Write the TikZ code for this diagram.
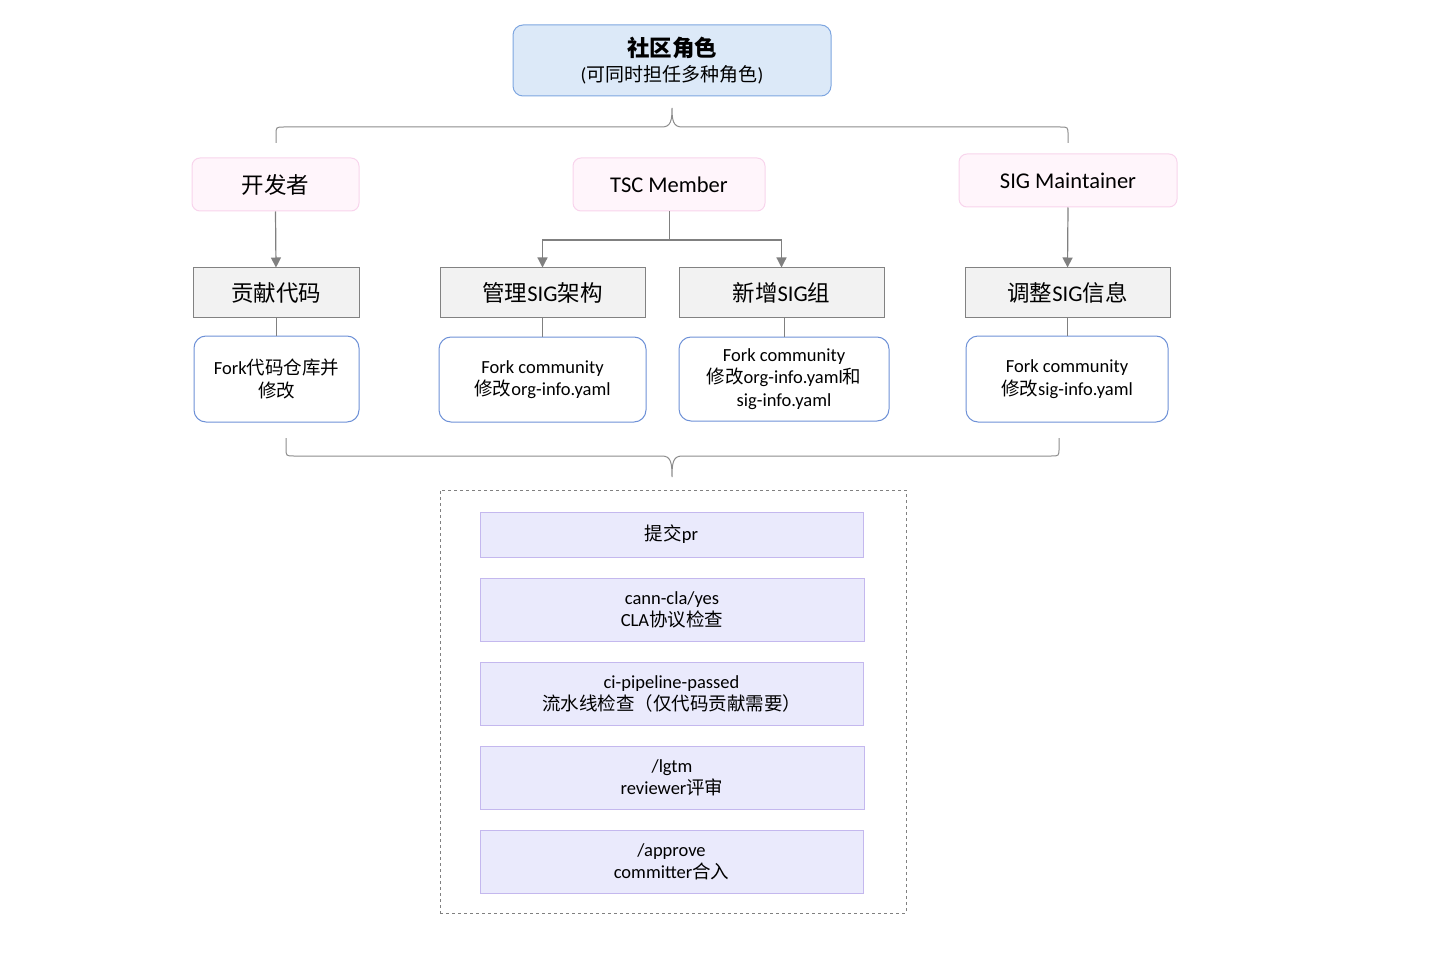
\documentclass[tikz,border=0pt]{standalone}
\usepackage{fontspec}
\setmainfont{Carlito}
\newfontfamily\cjk{Noto Sans CJK SC}
\newcommand{\zh}[1]{{\cjk #1}}
\usetikzlibrary{arrows.meta}

\definecolor{topfill}{RGB}{220,233,248}
\definecolor{topline}{RGB}{126,166,224}
\definecolor{rolefill}{RGB}{255,245,251}
\definecolor{roleline}{RGB}{248,212,236}
\definecolor{actfill}{RGB}{242,242,242}
\definecolor{actline}{RGB}{130,130,130}
\definecolor{forkline}{RGB}{110,145,215}
\definecolor{lavfill}{RGB}{234,234,252}
\definecolor{lavline}{RGB}{196,184,238}
\definecolor{wire}{RGB}{128,128,128}
\definecolor{bracec}{RGB}{140,140,140}

\tikzset{
  box/.style={inner sep=0pt, align=center, line width=1pt},
  topbox/.style={box, draw=topline, fill=topfill, rounded corners=10pt,
    font=\fontsize{19}{25}\selectfont},
  rolebox/.style={box, draw=roleline, fill=rolefill, rounded corners=8pt,
    font=\fontsize{22.5}{26}\selectfont},
  actbox/.style={box, draw=actline, fill=actfill, font=\fontsize{22.5}{26}\selectfont},
  forkbox/.style={box, draw=forkline, fill=white, rounded corners=12pt,
    font=\fontsize{18.5}{22.5}\selectfont},
  lavbox/.style={box, draw=lavline, fill=lavfill, font=\fontsize{18.5}{22}\selectfont},
  groupbox/.style={draw=wire, dashed, line width=0.9pt},
  arr/.style={draw=wire, line width=1.2pt, -{Triangle[length=10pt,width=10pt]}},
  wireline/.style={draw=wire, line width=1pt},
  bracel/.style={draw=bracec, line width=1pt},
}

\begin{document}
\begin{tikzpicture}[x=1pt,y=-1pt]
\useasboundingbox (0,0) rectangle (1445,976);

% community roles header
\node[topbox, minimum width=318pt, minimum height=71pt] (top) at (672,60.5)
  {{\cjk\bfseries\fontsize{22.5}{25}\selectfont 社区角色}\\
   (\zh{可同时担任多种角色})};

% brace below the header
\draw[bracel] (276,143) -- (276,135) .. controls (276,127) .. (284,127)
  -- (662,127) .. controls (671,127) and (672,120) .. (672,108)
  .. controls (672,120) and (673,127) .. (682,127)
  -- (1060,127) .. controls (1068,127) .. (1068,135) -- (1068,143);

% roles
\node[rolebox, minimum width=167pt, minimum height=53pt] (dev) at (275.5,184.5) {\zh{开发者}};
\node[rolebox, minimum width=192pt, minimum height=53pt] (tsc) at (669,184.5) {TSC Member};
\node[rolebox, minimum width=218pt, minimum height=53pt] (sigm) at (1068,180.5) {SIG Maintainer};

% actions
\node[actbox, minimum width=166pt, minimum height=49pt] (act1) at (276,292.5) {\zh{贡献代码}};
\node[actbox, minimum width=205pt, minimum height=49pt] (act2) at (542.5,292.5) {\zh{管理}SIG\zh{架构}};
\node[actbox, minimum width=205pt, minimum height=49pt] (act3) at (781.5,292.5) {\zh{新增}SIG\zh{组}};
\node[actbox, minimum width=205pt, minimum height=49pt] (act4) at (1067.5,292.5) {\zh{调整}SIG\zh{信息}};

% how each action is done
\node[forkbox, minimum width=165pt, minimum height=86pt] (fork1) at (276.5,379)
  {Fork\zh{代码仓库并}\\\zh{修改}};
\node[forkbox, minimum width=207pt, minimum height=85pt] (fork2) at (542.5,379.5)
  {Fork community\\\zh{修改}org-info.yaml};
\node[forkbox, minimum width=210pt, minimum height=84pt] (fork3) at (784,379)
  {Fork community\\\zh{修改}org-info.yaml\zh{和}\\sig-info.yaml};
\node[forkbox, minimum width=202pt, minimum height=86pt] (fork4) at (1067,379)
  {Fork community\\\zh{修改}sig-info.yaml};

% role -> action arrows
\draw[arr] (dev.south) -- (act1.north);
\coordinate (tj) at (669,240);
\draw[wireline] (tsc.south) -- (tj);
\draw[arr] (tj) -| (act2.north);
\draw[arr] (tj) -| (act3.north);
\draw[arr] (sigm.south) -- (act4.north);

% action -> fork links
\draw[wireline] (act1.south) -- (act1.south |- fork1.north);
\draw[wireline] (act2.south) -- (act2.south |- fork2.north);
\draw[wireline] ([xshift=2.5pt]act3.south) -- ([xshift=2.5pt]act3.south |- fork3.north);
\draw[wireline] (act4.south) -- (act4.south |- fork4.north);

% brace gathering all branches
\draw[bracel] (286,438) -- (286,448) .. controls (286,456) .. (294,456)
  -- (662,456) .. controls (671,456) and (672,463) .. (672,477)
  .. controls (672,463) and (673,456) .. (682,456)
  -- (1051,456) .. controls (1059,456) .. (1059,448) -- (1059,438);

% review pipeline
\node[groupbox, minimum width=466pt, minimum height=423pt, inner sep=0pt] (group) at (673,701.5) {};
\node[lavbox, minimum width=383pt, minimum height=45pt] (s1) at (671.5,534.5) {\zh{提交}pr};
\node[lavbox, minimum width=384pt, minimum height=63pt] (s2) at (672,609.5)
  {cann-cla/yes\\CLA\zh{协议检查}};
\node[lavbox, minimum width=383pt, minimum height=63pt] (s3) at (671.5,693.5)
  {ci-pipeline-passed\\\zh{流水线检查（仅代码贡献需要）}};
\node[lavbox, minimum width=384pt, minimum height=63pt] (s4) at (672,777.5)
  {/lgtm\\reviewer\zh{评审}};
\node[lavbox, minimum width=383pt, minimum height=63pt] (s5) at (671.5,861.5)
  {/approve\\committer\zh{合入}};
\end{tikzpicture}
\end{document}
